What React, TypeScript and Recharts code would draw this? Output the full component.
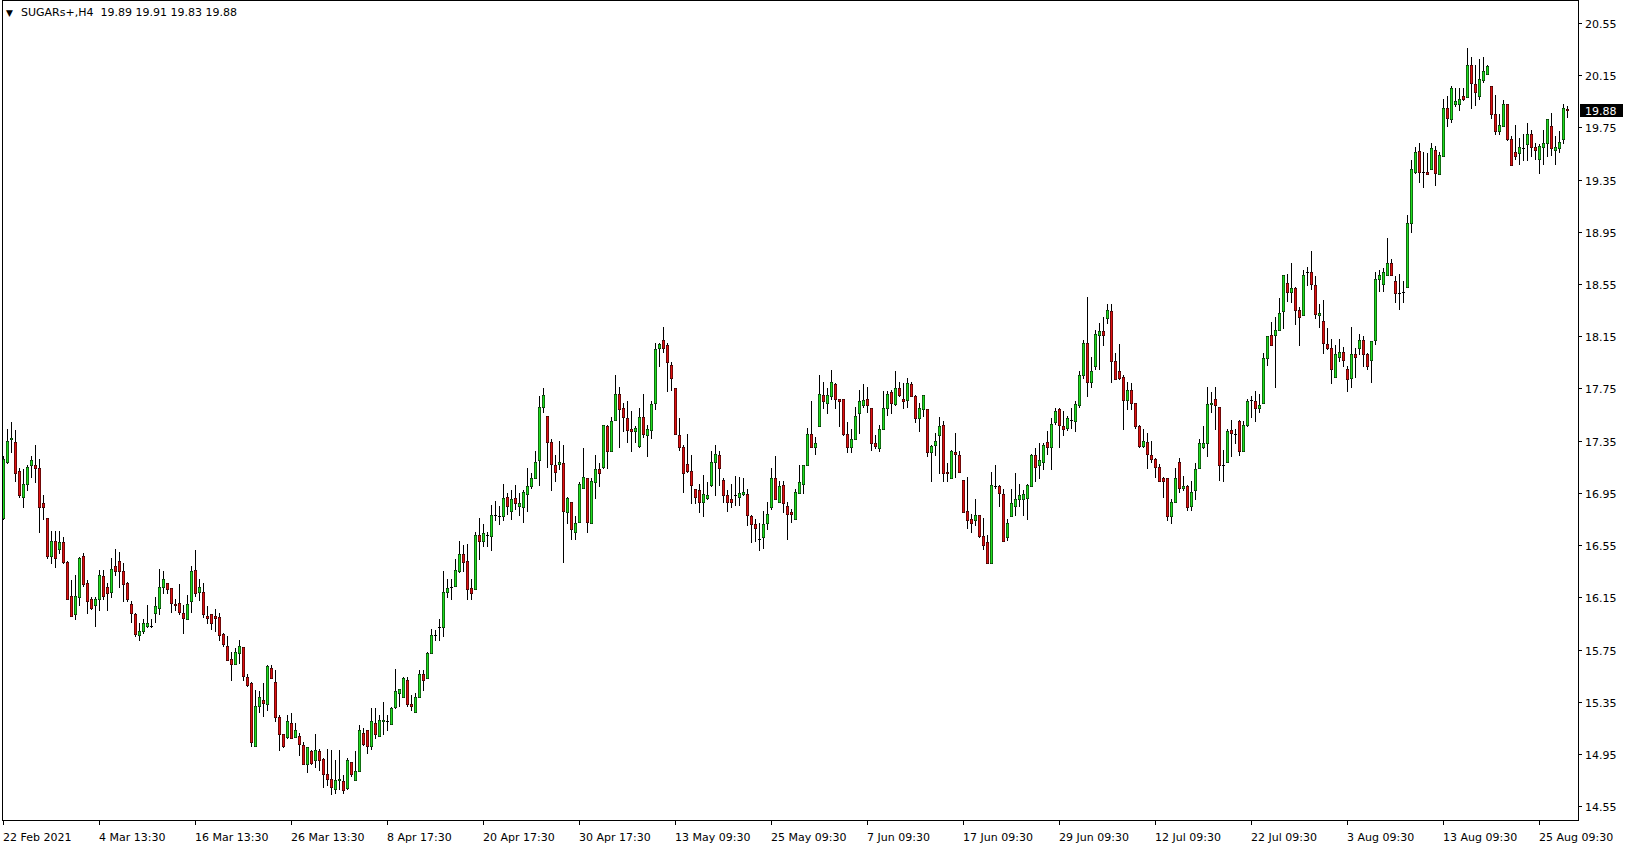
import { Bar, BarChart, ReferenceLine, XAxis, YAxis } from "recharts";

// Time axis labels, one every 24 bars (H4 bars, 3 per trading day)
const TICK_LABELS = [
  "22 Feb 2021", "4 Mar 13:30", "16 Mar 13:30", "26 Mar 13:30", "8 Apr 17:30",
  "20 Apr 17:30", "30 Apr 17:30", "13 May 09:30", "25 May 09:30", "7 Jun 09:30",
  "17 Jun 09:30", "29 Jun 09:30", "12 Jul 09:30", "22 Jul 09:30", "3 Aug 09:30",
  "13 Aug 09:30", "25 Aug 09:30",
];
const LABEL_EVERY = 24;

const Y_TICKS = [
  14.55, 14.95, 15.35, 15.75, 16.15, 16.55, 16.95, 17.35,
  17.75, 18.15, 18.55, 18.95, 19.35, 19.75, 20.15, 20.55,
];
const Y_DOMAIN: [number, number] = [14.444, 20.71];

const SYMBOL = "SUGARs+,H4";
const LAST_BID = 19.88;

const OPEN = [
  16.76, 17.19, 17.36, 17.34, 17.12, 16.92, 17.02, 17.16, 17.16, 17.14,
  16.87, 16.76, 16.47, 16.58, 16.52, 16.57, 16.42, 16.16, 16.02, 16.15,
  16.47, 16.26, 16.14, 16.09, 16.14, 16.31, 16.23, 16.19, 16.39, 16.43,
  16.35, 16.26, 16.10, 16.02, 15.86, 15.89, 15.93, 15.93, 16.03, 16.07,
  16.23, 16.26, 16.22, 16.10, 16.11, 16.03, 15.98, 16.12, 16.36, 16.19,
  16.19, 16.01, 16.02, 16.01, 16.00, 15.87, 15.78, 15.68, 15.64, 15.72,
  15.77, 15.54, 15.49, 15.01, 15.32, 15.36, 15.33, 15.61, 15.50, 15.23,
  15.10, 15.08, 15.19, 15.08, 15.09, 15.02, 14.87, 14.97, 14.90, 14.97,
  14.91, 14.80, 14.76, 14.68, 14.75, 14.74, 14.69, 14.89, 14.75, 14.82,
  15.11, 15.13, 15.01, 15.19, 15.09, 15.20, 15.20, 15.18, 15.31, 15.42,
  15.39, 15.52, 15.33, 15.27, 15.39, 15.56, 15.53, 15.72, 15.86, 15.92,
  15.92, 16.19, 16.23, 16.24, 16.35, 16.48, 16.43, 16.22, 16.21, 16.63,
  16.58, 16.63, 16.62, 16.78, 16.77, 16.77, 16.92, 16.81, 16.91, 16.85,
  16.84, 16.94, 17.00, 17.06, 17.20, 17.61, 17.54, 17.34, 17.16, 17.17,
  17.18, 16.80, 16.88, 16.65, 16.73, 16.99, 17.06, 16.72, 17.03, 17.13,
  17.15, 17.46, 17.27, 17.51, 17.71, 17.60, 17.52, 17.44, 17.42, 17.31,
  17.53, 17.39, 17.43, 17.64, 18.06, 18.12, 18.08, 17.93, 17.75, 17.39,
  17.30, 17.17, 17.12, 16.98, 16.97, 16.88, 16.91, 17.01, 17.19, 17.24,
  17.05, 16.93, 16.90, 16.93, 16.92, 16.94, 16.94, 16.77, 16.71, 16.60,
  16.61, 16.72, 16.84, 17.06, 16.88, 17.01, 16.85, 16.80, 16.75, 16.95,
  17.02, 17.16, 17.40, 17.30, 17.46, 17.70, 17.64, 17.69, 17.78, 17.67,
  17.67, 17.40, 17.30, 17.36, 17.56, 17.62, 17.67, 17.60, 17.33, 17.29,
  17.44, 17.60, 17.72, 17.63, 17.75, 17.67, 17.66, 17.78, 17.69, 17.52,
  17.59, 17.59, 17.26, 17.32, 17.39, 17.47, 17.11, 17.06, 17.26, 17.24,
  17.05, 16.81, 16.75, 16.74, 16.78, 16.62, 16.57, 16.41, 17.00, 17.00,
  16.94, 16.61, 16.77, 16.85, 16.90, 16.90, 16.91, 17.00, 17.24, 17.16,
  17.19, 17.34, 17.30, 17.49, 17.59, 17.46, 17.45, 17.51, 17.50, 17.62,
  17.85, 18.10, 17.80, 17.92, 18.16, 18.19, 18.29, 18.34, 17.96, 17.88,
  17.84, 17.66, 17.74, 17.64, 17.46, 17.31, 17.34, 17.24, 17.21, 17.15,
  17.06, 17.06, 16.77, 16.88, 17.19, 16.99, 17.00, 16.85, 16.97, 17.14,
  17.30, 17.33, 17.63, 17.67, 17.61, 17.16, 17.19, 17.43, 17.40, 17.50,
  17.27, 17.47, 17.66, 17.65, 17.60, 17.64, 17.98, 18.16, 18.16, 18.20,
  18.34, 18.56, 18.49, 18.52, 18.35, 18.31, 18.64, 18.64, 18.54, 18.31,
  18.27, 18.09, 18.06, 17.84, 17.99, 18.03, 17.90, 17.83, 18.01, 18.06,
  18.12, 18.01, 17.97, 18.12, 18.59, 18.55, 18.62, 18.71, 18.57, 18.48,
  18.49, 18.53, 19.02, 19.41, 19.57, 19.41, 19.41, 19.43, 19.58, 19.39,
  19.53, 19.90, 19.81, 19.93, 19.93, 19.99, 19.98, 20.23, 20.08, 19.99,
  20.11, 20.16, 20.07, 19.85, 19.72, 19.76, 19.93, 19.66, 19.56, 19.55,
  19.59, 19.62, 19.70, 19.60, 19.51, 19.60, 19.63, 19.76, 19.58, 19.59,
  19.66, 19.89,
];

const HIGH = [
  17.23, 17.44, 17.49, 17.43, 17.14, 17.13, 17.16, 17.23, 17.32, 17.21,
  16.93, 16.76, 16.66, 16.66, 16.66, 16.61, 16.43, 16.28, 16.32, 16.46,
  16.49, 16.28, 16.15, 16.15, 16.36, 16.36, 16.26, 16.45, 16.52, 16.50,
  16.41, 16.27, 16.12, 16.03, 15.95, 15.98, 16.09, 15.98, 16.15, 16.37,
  16.35, 16.26, 16.22, 16.14, 16.25, 16.09, 16.17, 16.39, 16.51, 16.29,
  16.26, 16.08, 16.02, 16.06, 16.03, 15.88, 15.85, 15.73, 15.76, 15.82,
  15.77, 15.56, 15.50, 15.44, 15.43, 15.49, 15.63, 15.63, 15.59, 15.25,
  15.10, 15.25, 15.26, 15.19, 15.11, 15.04, 15.00, 14.98, 15.10, 14.99,
  14.92, 14.99, 14.98, 14.90, 14.98, 14.79, 14.92, 14.89, 14.97, 15.17,
  15.15, 15.13, 15.30, 15.30, 15.25, 15.35, 15.25, 15.31, 15.60, 15.45,
  15.54, 15.54, 15.40, 15.42, 15.59, 15.59, 15.73, 15.91, 15.90, 15.98,
  16.35, 16.29, 16.29, 16.44, 16.58, 16.55, 16.56, 16.29, 16.65, 16.76,
  16.71, 16.65, 16.86, 16.89, 16.85, 17.02, 16.95, 16.97, 17.01, 16.95,
  16.97, 17.14, 17.10, 17.27, 17.69, 17.75, 17.54, 17.36, 17.24, 17.35,
  17.32, 16.92, 16.88, 16.77, 17.03, 17.29, 17.06, 17.06, 17.24, 17.18,
  17.47, 17.47, 17.53, 17.85, 17.76, 17.64, 17.65, 17.58, 17.46, 17.60,
  17.71, 17.47, 17.65, 18.10, 18.10, 18.22, 18.10, 17.95, 17.75, 17.52,
  17.32, 17.40, 17.24, 16.98, 17.02, 17.09, 17.03, 17.27, 17.32, 17.27,
  17.06, 16.97, 17.02, 17.08, 17.07, 17.06, 16.98, 16.78, 16.75, 16.72,
  16.81, 16.88, 17.14, 17.23, 17.04, 17.04, 16.88, 16.83, 16.98, 17.16,
  17.16, 17.45, 17.65, 17.38, 17.85, 17.80, 17.75, 17.89, 17.79, 17.67,
  17.67, 17.49, 17.44, 17.61, 17.74, 17.78, 17.76, 17.60, 17.39, 17.47,
  17.73, 17.73, 17.74, 17.88, 17.80, 17.79, 17.83, 17.80, 17.70, 17.64,
  17.70, 17.59, 17.32, 17.41, 17.53, 17.50, 17.18, 17.28, 17.41, 17.27,
  17.05, 17.07, 16.79, 16.90, 16.78, 16.76, 16.63, 17.11, 17.16, 17.01,
  16.98, 16.75, 16.98, 17.10, 17.02, 16.97, 17.02, 17.25, 17.29, 17.33,
  17.33, 17.42, 17.52, 17.60, 17.60, 17.58, 17.54, 17.60, 17.65, 17.88,
  18.12, 18.45, 17.99, 18.20, 18.25, 18.30, 18.40, 18.40, 18.02, 18.09,
  17.85, 17.80, 17.79, 17.64, 17.47, 17.44, 17.41, 17.35, 17.22, 17.17,
  17.07, 17.06, 16.90, 17.14, 17.22, 17.08, 17.01, 17.04, 17.18, 17.36,
  17.46, 17.76, 17.72, 17.76, 17.61, 17.28, 17.44, 17.51, 17.44, 17.51,
  17.50, 17.67, 17.69, 17.73, 17.71, 18.02, 18.15, 18.26, 18.30, 18.44,
  18.62, 18.63, 18.71, 18.53, 18.37, 18.66, 18.68, 18.80, 18.61, 18.40,
  18.43, 18.21, 18.13, 18.08, 18.13, 18.07, 17.92, 18.22, 18.06, 18.17,
  18.15, 18.02, 18.11, 18.64, 18.66, 18.67, 18.90, 18.74, 18.61, 18.63,
  18.57, 19.08, 19.50, 19.60, 19.63, 19.56, 19.55, 19.63, 19.61, 19.56,
  19.97, 19.99, 20.07, 20.05, 20.05, 20.05, 20.36, 20.29, 20.23, 20.27,
  20.29, 20.23, 20.07, 20.00, 19.85, 19.96, 19.93, 19.68, 19.77, 19.67,
  19.70, 19.78, 19.73, 19.63, 19.62, 19.73, 19.81, 19.86, 19.68, 19.72,
  19.93, 19.91,
];

const LOW = [
  16.75, 17.18, 17.26, 17.04, 16.92, 16.84, 16.97, 17.07, 17.03, 16.65,
  16.75, 16.45, 16.41, 16.38, 16.49, 16.41, 16.14, 16.01, 15.98, 16.09,
  16.24, 16.03, 16.06, 15.93, 16.05, 16.14, 16.05, 16.15, 16.32, 16.23,
  16.12, 16.12, 15.96, 15.85, 15.82, 15.88, 15.92, 15.92, 15.96, 16.02,
  16.18, 16.18, 16.04, 16.05, 16.02, 15.88, 15.98, 16.04, 16.16, 16.13,
  16.00, 15.95, 15.91, 15.89, 15.82, 15.78, 15.67, 15.52, 15.64, 15.65,
  15.52, 15.47, 15.01, 15.01, 15.27, 15.24, 15.29, 15.53, 15.20, 14.98,
  15.00, 15.07, 15.07, 15.08, 14.94, 14.87, 14.81, 14.87, 14.85, 14.83,
  14.70, 14.71, 14.64, 14.65, 14.68, 14.65, 14.68, 14.78, 14.75, 14.82,
  15.02, 14.96, 14.99, 15.07, 15.09, 15.10, 15.13, 15.18, 15.30, 15.32,
  15.39, 15.32, 15.29, 15.27, 15.39, 15.44, 15.53, 15.72, 15.82, 15.82,
  15.85, 16.15, 16.14, 16.24, 16.34, 16.35, 16.14, 16.14, 16.21, 16.44,
  16.54, 16.54, 16.51, 16.74, 16.71, 16.74, 16.79, 16.75, 16.83, 16.78,
  16.73, 16.81, 16.99, 17.06, 17.01, 17.57, 17.15, 16.97, 17.04, 17.13,
  16.42, 16.72, 16.60, 16.60, 16.73, 16.99, 16.65, 16.72, 16.91, 17.00,
  17.14, 17.14, 17.27, 17.51, 17.30, 17.42, 17.34, 17.27, 17.34, 17.30,
  17.38, 17.23, 17.37, 17.59, 17.92, 18.03, 17.73, 17.74, 17.40, 17.28,
  16.96, 17.11, 16.87, 16.87, 16.80, 16.77, 16.90, 17.00, 16.93, 17.01,
  16.88, 16.81, 16.84, 16.86, 16.86, 16.93, 16.70, 16.57, 16.58, 16.51,
  16.53, 16.67, 16.83, 16.90, 16.88, 16.80, 16.60, 16.73, 16.75, 16.95,
  16.95, 17.16, 17.30, 17.25, 17.46, 17.60, 17.56, 17.67, 17.60, 17.46,
  17.39, 17.26, 17.26, 17.36, 17.41, 17.61, 17.57, 17.28, 17.29, 17.27,
  17.44, 17.55, 17.56, 17.62, 17.69, 17.60, 17.61, 17.69, 17.49, 17.42,
  17.54, 17.23, 17.04, 17.24, 17.10, 17.04, 17.04, 17.06, 17.07, 17.11,
  16.80, 16.68, 16.65, 16.70, 16.61, 16.52, 16.41, 16.41, 16.99, 16.85,
  16.58, 16.59, 16.77, 16.78, 16.85, 16.78, 16.75, 17.00, 17.04, 17.06,
  17.13, 17.25, 17.13, 17.48, 17.30, 17.39, 17.43, 17.45, 17.42, 17.61,
  17.83, 17.69, 17.76, 17.90, 17.90, 18.08, 18.25, 17.80, 17.82, 17.82,
  17.44, 17.59, 17.59, 17.45, 17.30, 17.30, 17.14, 17.19, 17.07, 17.04,
  16.92, 16.74, 16.72, 16.88, 16.96, 16.97, 16.82, 16.82, 16.90, 17.14,
  17.29, 17.23, 17.57, 17.44, 17.05, 17.04, 17.19, 17.23, 17.33, 17.24,
  17.27, 17.46, 17.53, 17.50, 17.57, 17.64, 17.93, 18.08, 17.76, 18.20,
  18.21, 18.42, 18.41, 18.24, 18.08, 18.31, 18.54, 18.51, 18.29, 18.22,
  18.02, 18.05, 17.79, 17.84, 17.96, 17.92, 17.73, 17.76, 17.84, 18.01,
  17.92, 17.90, 17.80, 18.09, 18.50, 18.50, 18.62, 18.62, 18.41, 18.36,
  18.41, 18.53, 18.95, 19.40, 19.33, 19.29, 19.39, 19.43, 19.31, 19.39,
  19.53, 19.76, 19.79, 19.91, 19.88, 19.96, 19.98, 19.90, 19.92, 19.97,
  20.10, 20.16, 19.82, 19.70, 19.70, 19.76, 19.65, 19.46, 19.51, 19.47,
  19.50, 19.50, 19.53, 19.51, 19.40, 19.47, 19.53, 19.54, 19.47, 19.56,
  19.63, 19.83,
];

const CLOSE = [
  17.21, 17.35, 17.37, 17.10, 16.93, 17.02, 17.15, 17.20, 17.14, 16.84,
  16.84, 16.47, 16.58, 16.45, 16.57, 16.42, 16.14, 16.01, 16.16, 16.45,
  16.25, 16.12, 16.07, 16.14, 16.32, 16.16, 16.18, 16.37, 16.35, 16.35,
  16.25, 16.14, 16.03, 15.87, 15.89, 15.95, 15.95, 15.93, 16.08, 16.23,
  16.29, 16.21, 16.11, 16.09, 16.04, 15.99, 16.10, 16.35, 16.18, 16.23,
  16.02, 15.99, 15.95, 15.99, 15.86, 15.79, 15.67, 15.64, 15.73, 15.78,
  15.55, 15.48, 15.04, 15.32, 15.39, 15.34, 15.62, 15.53, 15.23, 15.10,
  15.01, 15.20, 15.07, 15.13, 15.03, 14.87, 15.00, 14.88, 14.98, 14.90,
  14.80, 14.76, 14.70, 14.75, 14.76, 14.67, 14.90, 14.80, 14.82, 15.13,
  15.03, 15.01, 15.20, 15.10, 15.21, 15.21, 15.20, 15.30, 15.43, 15.45,
  15.53, 15.33, 15.32, 15.39, 15.56, 15.52, 15.72, 15.86, 15.86, 15.92,
  16.19, 16.22, 16.23, 16.36, 16.48, 16.42, 16.21, 16.18, 16.63, 16.58,
  16.64, 16.63, 16.78, 16.78, 16.77, 16.91, 16.85, 16.90, 16.87, 16.87,
  16.96, 17.00, 17.06, 17.19, 17.61, 17.70, 17.34, 17.17, 17.11, 17.19,
  16.81, 16.91, 16.67, 16.72, 17.02, 17.07, 16.73, 17.04, 17.13, 17.10,
  17.47, 17.27, 17.50, 17.71, 17.59, 17.53, 17.43, 17.42, 17.45, 17.53,
  17.40, 17.44, 17.63, 18.05, 18.09, 18.06, 17.95, 17.83, 17.40, 17.30,
  17.10, 17.12, 17.01, 16.92, 16.88, 16.94, 16.93, 17.19, 17.25, 17.14,
  16.93, 16.88, 16.88, 16.93, 16.95, 16.96, 16.78, 16.71, 16.68, 16.60,
  16.71, 16.79, 17.06, 16.90, 17.00, 16.87, 16.79, 16.79, 16.96, 17.03,
  17.16, 17.40, 17.30, 17.33, 17.71, 17.65, 17.70, 17.80, 17.67, 17.65,
  17.40, 17.30, 17.36, 17.54, 17.65, 17.66, 17.62, 17.33, 17.31, 17.44,
  17.60, 17.71, 17.64, 17.75, 17.70, 17.65, 17.79, 17.69, 17.52, 17.60,
  17.70, 17.26, 17.31, 17.35, 17.46, 17.10, 17.10, 17.27, 17.25, 17.11,
  16.80, 16.74, 16.72, 16.78, 16.62, 16.55, 16.41, 17.01, 17.00, 16.95,
  16.58, 16.72, 16.87, 16.90, 16.93, 16.94, 17.01, 17.24, 17.15, 17.20,
  17.32, 17.30, 17.48, 17.58, 17.47, 17.44, 17.52, 17.51, 17.63, 17.85,
  18.10, 17.80, 17.88, 18.17, 18.19, 18.16, 18.35, 17.96, 17.82, 17.83,
  17.66, 17.74, 17.64, 17.46, 17.31, 17.35, 17.25, 17.21, 17.15, 17.04,
  17.04, 16.77, 16.88, 17.06, 16.99, 17.00, 16.84, 16.96, 17.13, 17.33,
  17.33, 17.63, 17.64, 17.62, 17.16, 17.16, 17.42, 17.41, 17.40, 17.27,
  17.47, 17.65, 17.66, 17.60, 17.62, 17.98, 18.15, 18.08, 18.20, 18.33,
  18.62, 18.49, 18.52, 18.35, 18.30, 18.62, 18.64, 18.55, 18.32, 18.33,
  18.10, 18.06, 17.90, 18.01, 18.03, 17.97, 17.82, 18.01, 17.99, 18.12,
  18.01, 17.92, 18.11, 18.59, 18.62, 18.64, 18.71, 18.62, 18.48, 18.48,
  18.49, 19.02, 19.43, 19.56, 19.41, 19.41, 19.39, 19.59, 19.40, 19.54,
  19.90, 19.82, 20.05, 19.95, 19.97, 19.97, 20.23, 20.09, 20.02, 20.12,
  20.18, 20.22, 19.85, 19.72, 19.77, 19.93, 19.66, 19.46, 19.53, 19.60,
  19.59, 19.70, 19.60, 19.58, 19.61, 19.63, 19.81, 19.59, 19.60, 19.64,
  19.90, 19.88,
];

const BULL = "#1fdc1f";
const BEAR = "#e01010";
const INK = "#000000";
const FONT = "'DejaVu Sans', 'Liberation Sans', sans-serif";

const CHART_W = 1629;
const CHART_H = 850;
const AXIS_W = 51; // price scale on the right
const AXIS_H = 30; // time scale at the bottom

type Candle = {
  i: number;
  open: number;
  high: number;
  low: number;
  close: number;
  range: [number, number];
};

const candles: Candle[] = OPEN.map((open, i) => ({
  i,
  open,
  high: HIGH[i],
  low: LOW[i],
  close: CLOSE[i],
  range: [LOW[i], HIGH[i]],
}));

// Bar gets the pixel box of [low, high]; open/close are placed inside it.
function CandleShape(props: any) {
  const { x, y, width, height, payload } = props;
  if (x == null || y == null || !payload) return null;
  const top = Math.min(y, y + height);
  const h = Math.abs(height);
  const span = payload.high - payload.low;
  const toY = (v: number) => (span > 0 ? top + ((payload.high - v) / span) * h : top);

  const cx = Math.floor(x + width / 2);
  const yHigh = Math.round(toY(payload.high));
  const yLow = Math.round(toY(payload.low));
  const yBodyTop = Math.round(toY(Math.max(payload.open, payload.close)));
  const yBodyBot = Math.round(toY(Math.min(payload.open, payload.close)));
  const bodyH = yBodyBot - yBodyTop;
  const color = payload.close > payload.open ? BULL : BEAR;

  return (
    <g>
      <rect
        x={cx}
        y={yHigh}
        width={1}
        height={Math.max(1, yLow - yHigh + 1)}
        fill={INK}
        shapeRendering="crispEdges"
      />
      {bodyH < 1 ? (
        <rect x={cx - 1} y={yBodyTop} width={3} height={1} fill={INK} shapeRendering="crispEdges" />
      ) : (
        <>
          <rect x={cx - 1} y={yBodyTop} width={3} height={bodyH + 1} fill={color} shapeRendering="crispEdges" />
          <rect
            x={cx - 0.75}
            y={yBodyTop + 0.25}
            width={2.5}
            height={bodyH + 0.5}
            fill="none"
            stroke={INK}
            strokeWidth={0.5}
          />
        </>
      )}
    </g>
  );
}

function TimeTick({ x, y, payload }: any) {
  const label = TICK_LABELS[Math.round(payload.value / LABEL_EVERY)];
  if (!label) return null;
  const px = Math.floor(x);
  return (
    <g>
      <rect x={px} y={y} width={1} height={5} fill={INK} shapeRendering="crispEdges" />
      <text x={px} y={y + 20.5} fontFamily={FONT} fontSize={11} fill={INK}>
        {label}
      </text>
    </g>
  );
}

function PriceTick({ x, y, payload }: any) {
  const py = Math.round(y);
  return (
    <g>
      <rect x={x} y={py} width={4} height={1} fill={INK} shapeRendering="crispEdges" />
      <text x={x + 7} y={py + 4.5} fontFamily={FONT} fontSize={11} fill={INK}>
        {Number(payload.value).toFixed(2)}
      </text>
    </g>
  );
}

function BidLabel({ viewBox }: any) {
  if (!viewBox) return null;
  const right = viewBox.x + viewBox.width;
  const py = Math.round(viewBox.y);
  return (
    <g>
      <rect x={right + 2} y={py - 6} width={43} height={13} fill={INK} shapeRendering="crispEdges" />
      <text x={right + 7} y={py + 4.5} fontFamily={FONT} fontSize={11} fill="#ffffff">
        {LAST_BID.toFixed(2)}
      </text>
    </g>
  );
}

export default function App() {
  const last = candles[candles.length - 1];
  const header = `${last.open.toFixed(2)} ${last.high.toFixed(2)} ${last.low.toFixed(2)} ${last.close.toFixed(2)}`;

  return (
    <div
      style={{
        position: "absolute",
        left: 0,
        top: 0,
        width: CHART_W,
        height: CHART_H,
        background: "#ffffff",
        fontFamily: FONT,
      }}
    >
      <BarChart
        width={CHART_W}
        height={CHART_H}
        data={candles}
        margin={{ top: 2, right: 0, bottom: 0, left: 1.5 }}
        barCategoryGap={0}
      >
        <XAxis
          dataKey="i"
          type="category"
          height={AXIS_H}
          interval={LABEL_EVERY - 1}
          tick={TimeTick}
          tickLine={false}
          axisLine={false}
          tickSize={0}
          tickMargin={0}
          padding={{ left: 0, right: 8.5 }}
        />
        <YAxis
          orientation="right"
          type="number"
          width={AXIS_W}
          domain={Y_DOMAIN}
          allowDataOverflow
          ticks={Y_TICKS}
          interval={0}
          tick={PriceTick}
          tickLine={false}
          axisLine={false}
          tickSize={0}
          tickMargin={0}
        />
        <Bar dataKey="range" barSize={4} shape={CandleShape} isAnimationActive={false} />
        <ReferenceLine y={LAST_BID} stroke="none" label={(p: any) => <BidLabel {...p} />} />
      </BarChart>

      {/* chart frame */}
      <div
        style={{
          position: "absolute",
          left: 2,
          top: 0,
          width: 1575,
          height: 819,
          border: `1px solid ${INK}`,
          pointerEvents: "none",
        }}
      />

      <div
        style={{
          position: "absolute",
          left: 6,
          top: 6,
          fontSize: 9,
          lineHeight: "14px",
          color: INK,
        }}
      >
        ▼
      </div>
      <div
        style={{
          position: "absolute",
          left: 21,
          top: 6,
          fontSize: 11,
          lineHeight: "14px",
          whiteSpace: "pre",
          color: INK,
        }}
      >
        {`${SYMBOL}  ${header}`}
      </div>
    </div>
  );
}
